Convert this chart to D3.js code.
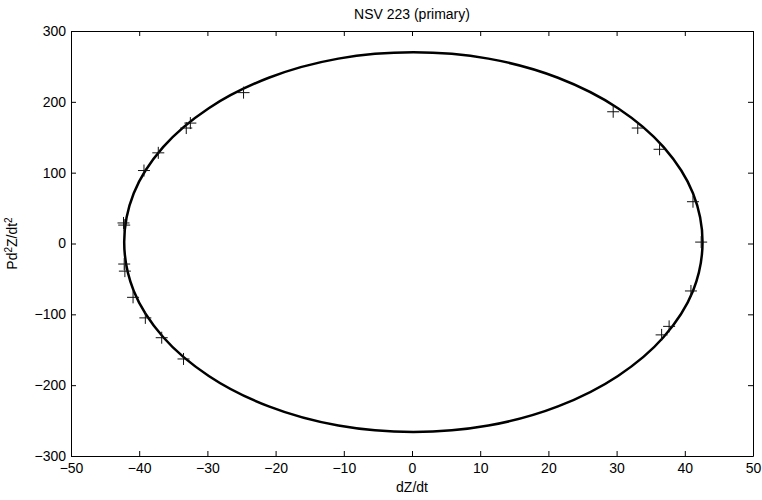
<!DOCTYPE html>
<html>
<head>
<meta charset="utf-8">
<script src="https://cdn.jsdelivr.net/npm/d3@7"></script>
<style>
  body { margin: 0; background: #fff; }
  text { font-family: "Liberation Sans", Arial, sans-serif; fill: #000; }
</style>
</head>
<body>
<script>
'use strict';

// fitted curve (dZ/dt, Pd2Z/dt2)
const curveX = [42.6, 41.2, 36.9, 30.2, 21.4, 11.2, 0.2, -10.8, -21.0, -29.8, -36.5, -40.8,
  -42.2, -40.8, -36.5, -29.8, -21.0, -10.8, 0.2, 11.2, 21.4, 30.2, 36.9, 41.2];
const curveY = [2, 71, 136, 191, 234, 261, 270, 261, 234, 191, 136, 71,
  2, -67, -132, -187, -230, -257, -266, -257, -230, -187, -132, -67];

// measured points (the + markers)
const pointX = [-24.7, -33.1, -32.5, -37.2, -39.3, -42.3, -42.2, -42.2, -42.1, -40.9, -39.1,
  -36.7, -33.5, 29.5, 33.1, 36.3, 41.2, 42.4, 40.9, 37.7, 36.6];
const pointY = [213, 163, 170, 128, 103, 29, 26, -29, -39, -76, -105,
  -133, -163, 186, 163, 133, 59, 2, -67, -117, -129];

const xTicks = [-50, -40, -30, -20, -10, 0, 10, 20, 30, 40, 50];
const yTicks = [-300, -200, -100, 0, 100, 200, 300];

const titleText = "NSV 223 (primary)";

(function () {
  let svg = "";

  window.onload = function () {
    svg = d3.select('body')
      .append('svg')
      .attr('width', 762)
      .attr('height', 500);

    let map = drawAxes({ min: 71, max: 753 }, { min: 31, max: 456 });
    plotData(map);
    makeLabels();
  }

  function drawAxes(rangeX, rangeY) {
    let xScale = d3.scaleLinear()
      .domain([-50, 50])
      .range([rangeX.min, rangeX.max]);
    let yScale = d3.scaleLinear()
      .domain([300, -300])
      .range([rangeY.min, rangeY.max]);

    // bottom axis with labels, ticks pointing inward
    svg.append('g')
      .attr('class', 'axis')
      .attr('transform', 'translate(0, ' + rangeY.max + ')')
      .call(d3.axisBottom(xScale).tickValues(xTicks).tickSizeInner(-5).tickSizeOuter(0).tickPadding(7));

    // top axis, ticks only
    svg.append('g')
      .attr('class', 'axis')
      .attr('transform', 'translate(0, ' + rangeY.min + ')')
      .call(d3.axisTop(xScale).tickValues(xTicks).tickSizeInner(-5).tickSizeOuter(0).tickFormat(''));

    // left axis with labels
    svg.append('g')
      .attr('class', 'axis')
      .attr('transform', 'translate(' + rangeX.min + ', 0)')
      .call(d3.axisLeft(yScale).tickValues(yTicks).tickSizeInner(-5).tickSizeOuter(0).tickPadding(5));

    // right axis, ticks only
    svg.append('g')
      .attr('class', 'axis')
      .attr('transform', 'translate(' + rangeX.max + ', 0)')
      .call(d3.axisRight(yScale).tickValues(yTicks).tickSizeInner(-5).tickSizeOuter(0).tickFormat(''));

    svg.selectAll('.axis text')
      .style('font-size', '14px')
      .attr('fill', '#000');
    svg.selectAll('.axis path, .axis line')
      .attr('stroke', '#000')
      .attr('stroke-width', 1);

    return { xScale: xScale, yScale: yScale };
  }

  function plotData(map) {
    let x = map.xScale;
    let y = map.yScale;

    let curve = curveX.map((d, i) => [d, curveY[i]]);
    let line = d3.line()
      .x(d => x(d[0]))
      .y(d => y(d[1]))
      .curve(d3.curveCatmullRomClosed);

    svg.append('path')
      .datum(curve)
      .attr('fill', 'none')
      .attr('stroke', '#000')
      .attr('stroke-width', 2.5)
      .attr('d', line);

    let pts = pointX.map((d, i) => [d, pointY[i]]);
    svg.selectAll('.pt')
      .data(pts)
      .enter()
      .append('path')
      .attr('class', 'pt')
      .attr('transform', d => 'translate(' + x(d[0]) + ',' + y(d[1]) + ')')
      .attr('d', 'M-6,0H6M0,-6V6')
      .attr('fill', 'none')
      .attr('stroke', '#111')
      .attr('stroke-width', 1);
  }

  function makeLabels() {
    svg.append('text')
      .attr('x', 412)
      .attr('y', 19)
      .attr('text-anchor', 'middle')
      .style('font-size', '14px')
      .text(titleText);

    svg.append('text')
      .attr('x', 412)
      .attr('y', 492)
      .attr('text-anchor', 'middle')
      .style('font-size', '14px')
      .text('dZ/dt');

    let yl = svg.append('text')
      .attr('transform', 'translate(17, 243.5)rotate(-90)')
      .attr('text-anchor', 'middle')
      .style('font-size', '14px');
    yl.append('tspan').text('Pd');
    yl.append('tspan').attr('dy', -5).style('font-size', '10px').text('2');
    yl.append('tspan').attr('dy', 5).text('Z/dt');
    yl.append('tspan').attr('dy', -5).style('font-size', '10px').text('2');
  }
})();
</script>
</body>
</html>
